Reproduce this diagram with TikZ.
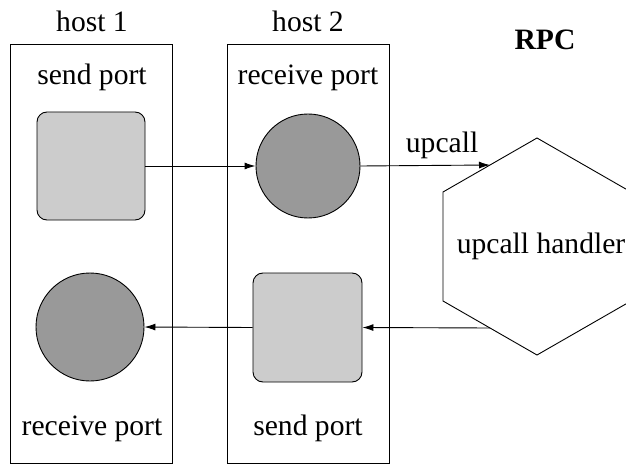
\documentclass[tikz,border=0pt]{standalone}
\usepackage{fontspec}
\setmainfont{Liberation Serif}
\usetikzlibrary{arrows.meta,calc}
\begin{document}
\begin{tikzpicture}[x=1pt,y=-1pt,
  lbl/.style={anchor=base,inner sep=0pt,font=\fontsize{29.6}{34}\selectfont},
  hostbox/.style={draw,line width=0.9pt},
  sport/.style={draw,line width=0.9pt,fill=black!20,rounded corners=10pt},
  rport/.style={draw,line width=0.9pt,fill=black!40,circle,inner sep=0pt},
  conn/.style={line width=0.9pt,-{Latex[length=11pt,width=7pt]}}]
\clip (0,0) rectangle (626,465);
\fill[white] (0,0) rectangle (626,465);
% host boxes
\draw[hostbox] (10,44) rectangle (172,463);
\draw[hostbox] (227,44) rectangle (389,463);
% labels
\node[lbl] (h1) at (92,32) {host 1};
\node[lbl] (h2) at (308,32) {host 2};
\node[lbl,font=\fontsize{29.6}{34}\selectfont\bfseries] (rpc) at (545,50) {RPC};
\node[lbl] (sp1) at (92,85) {send port};
\node[lbl] (rp2) at (308,85) {receive port};
\node[lbl] (rp1) at (92,435) {receive port};
\node[lbl] (sp2) at (308,435) {send port};
% ports
\node[sport,minimum width=108pt,minimum height=108pt] (s1) at (91,166) {};
\node[rport,minimum size=104pt] (c2) at (308,166) {};
\node[rport,minimum size=108pt] (c1) at (90,327) {};
\node[sport,minimum width=109pt,minimum height=109pt] (s2) at (307.5,327.5) {};
% hexagon
\coordinate (hT) at (537,138);
\coordinate (hUL) at (443,192);
\coordinate (hLL) at (443,301);
\coordinate (hB) at (537,355);
\coordinate (hLR) at (631,301);
\coordinate (hUR) at (631,192);
\draw[line width=0.9pt,fill=white] (hT) -- (hUL) -- (hLL) -- (hB) -- (hLR) -- (hUR) -- cycle;
\node[lbl] (hh) at (541,253) {upcall handler};
\coordinate (hin) at ($(hUL)!0.5!(hT)$);
\coordinate (hout) at ($(hLL)!0.5!(hB)$);
% connectors
\draw[conn] (s1.east) -- (c2.west);
\draw[conn] (c2.east) -- (hin) node[lbl,pos=0.63,yshift=13pt] (up) {upcall};
\draw[conn] (hout) -- (s2.east);
\draw[conn] (s2.west) -- (c1.east);
\end{tikzpicture}
\end{document}
